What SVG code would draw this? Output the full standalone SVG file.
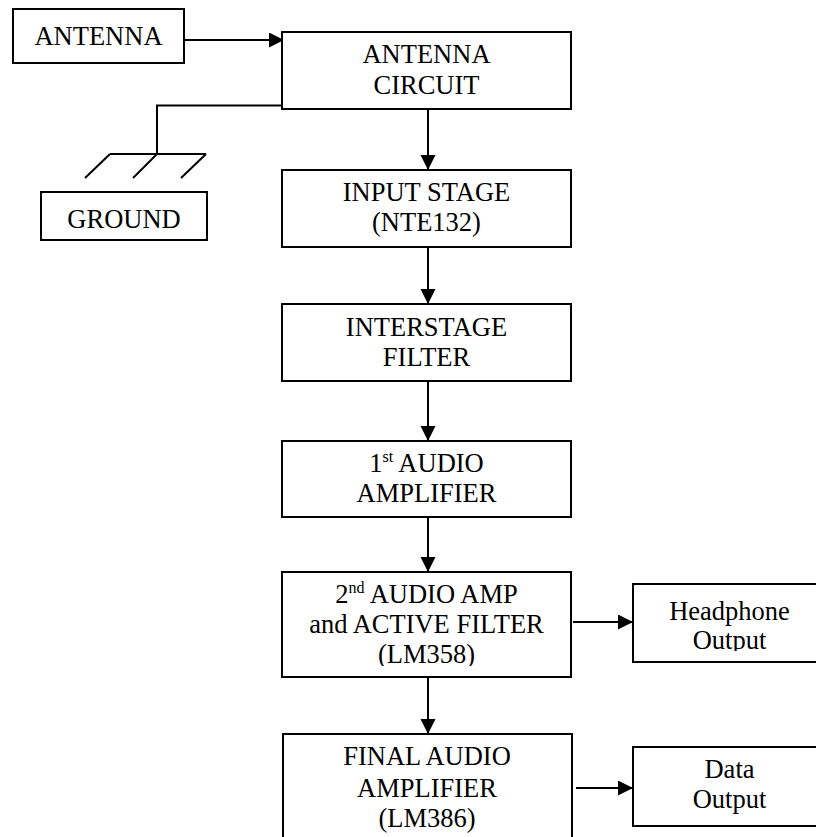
<svg xmlns="http://www.w3.org/2000/svg" width="816" height="837" viewBox="0 0 816 837">
<style>
.box{fill:#fff;stroke:#000;stroke-width:2}
.t{font-family:'Liberation Serif','Times New Roman',Times,serif;font-size:26.5px;fill:#000;text-anchor:middle}
.sup{font-size:16px}
.ln{fill:none;stroke:#000;stroke-width:2}
</style>
<defs>
<marker id="ah" markerUnits="userSpaceOnUse" markerWidth="16" markerHeight="16" refX="15" refY="7.5" orient="auto" viewBox="0 0 16 16">
<path d="M0,0 L15,7.5 L0,15 z" fill="#000"/>
</marker>
<clipPath id="c2"><rect x="282" y="572" width="290" height="94"/></clipPath>
<clipPath id="ch"><rect x="633" y="584" width="200" height="67"/></clipPath>
</defs>
<rect width="816" height="837" fill="#fff"/>
<g id="connectors">
<line class="ln" x1="184" y1="40" x2="284" y2="40" marker-end="url(#ah)"/>
<polyline class="ln" points="282,105.5 157,105.5 157,154"/>
<line class="ln" x1="110" y1="154" x2="206" y2="154"/>
<line class="ln" x1="110" y1="154" x2="85" y2="178"/>
<line class="ln" x1="157" y1="154" x2="133" y2="178"/>
<line class="ln" x1="206" y1="154" x2="181" y2="178"/>
<line class="ln" x1="428" y1="109" x2="428" y2="170" marker-end="url(#ah)"/>
<line class="ln" x1="428" y1="247" x2="428" y2="304" marker-end="url(#ah)"/>
<line class="ln" x1="428" y1="381" x2="428" y2="441" marker-end="url(#ah)"/>
<line class="ln" x1="428" y1="517" x2="428" y2="572" marker-end="url(#ah)"/>
<line class="ln" x1="428" y1="677" x2="428" y2="734" marker-end="url(#ah)"/>
<line class="ln" x1="573" y1="622" x2="633" y2="622" marker-end="url(#ah)"/>
<line class="ln" x1="576" y1="788" x2="633" y2="788" marker-end="url(#ah)"/>
</g>
<g id="antenna">
<rect class="box" x="13" y="9" width="171" height="54"/>
<text class="t" x="98.5" y="45">ANTENNA</text>
</g>
<g id="ground">
<rect class="box" x="41" y="192" width="166" height="48"/>
<text class="t" x="124" y="228">GROUND</text>
</g>
<g id="antenna-circuit">
<rect class="box" x="282" y="32" width="289" height="77"/>
<text class="t" x="426.5" y="63">ANTENNA</text>
<text class="t" x="426.5" y="94">CIRCUIT</text>
</g>
<g id="input-stage">
<rect class="box" x="282" y="170" width="289" height="77"/>
<text class="t" x="426.5" y="201">INPUT STAGE</text>
<text class="t" x="426.5" y="231">(NTE132)</text>
</g>
<g id="interstage">
<rect class="box" x="282" y="304" width="289" height="77"/>
<text class="t" x="426.5" y="336">INTERSTAGE</text>
<text class="t" x="426.5" y="366">FILTER</text>
</g>
<g id="audio1">
<rect class="box" x="282" y="441" width="289" height="76"/>
<text class="t" x="426.5" y="472">1<tspan class="sup" dy="-10">st</tspan><tspan dy="10"> AUDIO</tspan></text>
<text class="t" x="426.5" y="502">AMPLIFIER</text>
</g>
<g id="audio2">
<rect class="box" x="282" y="572" width="289" height="105"/>
<g clip-path="url(#c2)">
<text class="t" x="426.5" y="603">2<tspan class="sup" dy="-10">nd</tspan><tspan dy="10"> AUDIO AMP</tspan></text>
<text class="t" x="426.5" y="633">and ACTIVE FILTER</text>
<text class="t" x="426.5" y="663">(LM358)</text>
</g>
</g>
<g id="final-audio">
<rect class="box" x="283" y="734" width="289" height="120"/>
<text class="t" x="427" y="765">FINAL AUDIO</text>
<text class="t" x="427" y="797">AMPLIFIER</text>
<text class="t" x="427" y="827">(LM386)</text>
</g>
<g id="headphone">
<rect class="box" x="633" y="584" width="193" height="78"/>
<g clip-path="url(#ch)">
<text class="t" x="729.5" y="620">Headphone</text>
<text class="t" x="729.5" y="649">Output</text>
</g>
</g>
<g id="data">
<rect class="box" x="633" y="747" width="193" height="79"/>
<text class="t" x="729.5" y="778">Data</text>
<text class="t" x="729.5" y="808">Output</text>
</g>
</svg>
